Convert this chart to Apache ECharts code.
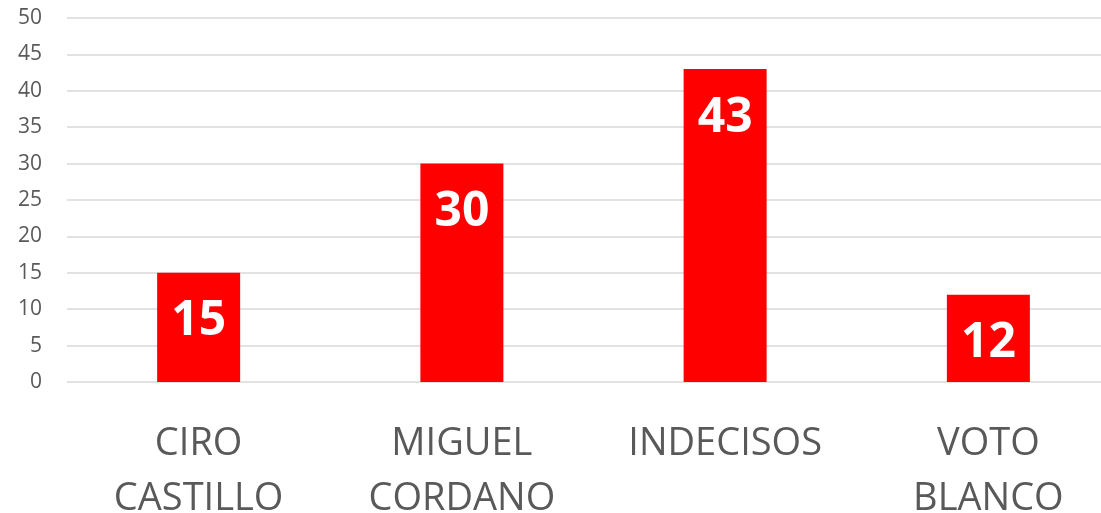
<!DOCTYPE html>
<html>
<head>
<meta charset="utf-8">
<style>
  html, body { margin: 0; padding: 0; background: #fff; }
  #chart { width: 1101px; height: 513px; }
</style>
<script src="https://cdn.jsdelivr.net/npm/echarts@6/dist/echarts.min.js"></script>
</head>
<body>
<div id="chart"></div>
<script>
const categories = ['CIRO\nCASTILLO', 'MIGUEL\nCORDANO', 'INDECISOS', 'VOTO\nBLANCO']
const votes = [15, 30, 43, 12]

const chart = echarts.init(document.getElementById('chart'))

const option = {
  backgroundColor: '#fff',
  animation: false,
  grid: {
    left: 67,
    right: -19,
    top: 18,
    bottom: 131,
    outerBoundsMode: 'none',
    containLabel: false
  },
  xAxis: {
    type: 'category',
    data: categories,
    axisLine: { show: false },
    axisTick: { show: false },
    axisLabel: {
      color: '#595959',
      fontFamily: 'Open Sans',
      fontSize: 38,
      lineHeight: 55,
      margin: 35,
      interval: 0
    }
  },
  yAxis: {
    type: 'value',
    min: 0,
    max: 50,
    interval: 5,
    axisLine: { show: false },
    axisTick: { show: false },
    splitLine: { lineStyle: { color: '#d9d9d9', width: 1.5 } },
    axisLabel: {
      color: '#595959',
      fontFamily: 'Open Sans',
      fontSize: 21,
      margin: 25
    }
  },
  series: [
    {
      type: 'bar',
      data: votes,
      barWidth: 83,
      itemStyle: { color: '#ff0000' },
      label: {
        show: true,
        position: 'insideTop',
        distance: 25,
        color: '#fff',
        fontFamily: 'Open Sans',
        fontWeight: 'bold',
        fontSize: 48
      }
    }
  ]
}

chart.setOption(option)
</script>
</body>
</html>
